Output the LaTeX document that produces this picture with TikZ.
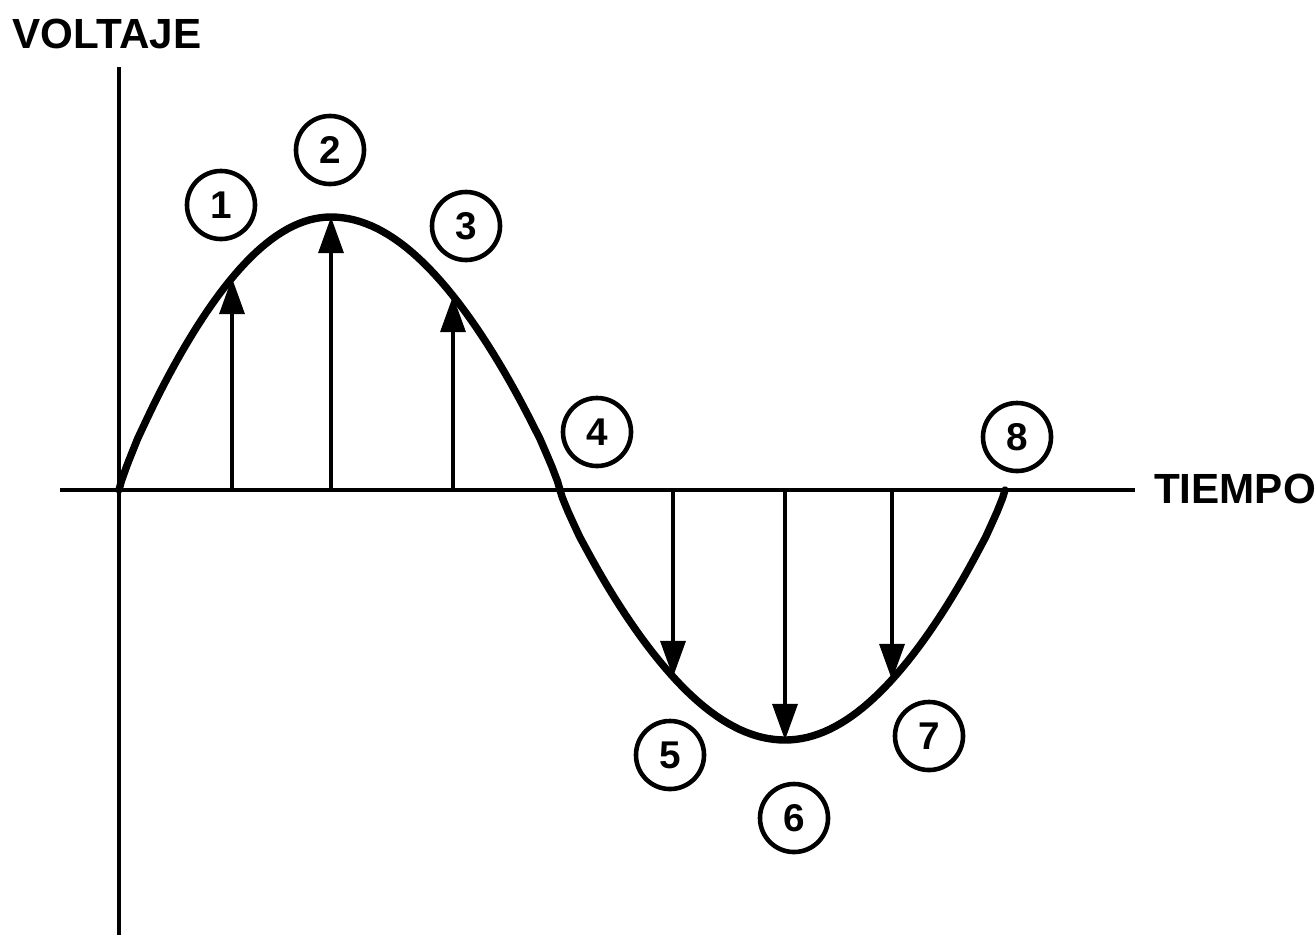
\documentclass[tikz,border=0pt]{standalone}
\usepackage{fontspec}
\setmainfont{Liberation Sans}
\usetikzlibrary{arrows.meta}

\begin{document}
\begin{tikzpicture}[
  x=0.01cm, y=-0.01cm,
  font=\bfseries\fontsize{12}{14}\selectfont,
  >={Triangle[length=3.6mm, width=2.5mm]},
  axis/.style={line width=1.1pt, black},
  wave/.style={line width=2.1pt, black, line join=round, line cap=round},
  a/.style={->, line width=0.9pt, black},
  num/.style={circle, draw, line width=1.3pt, minimum size=6.8mm, inner sep=0pt, font=\bfseries\fontsize{11}{13}\selectfont},
]
\useasboundingbox (0,0) rectangle (1316,942);
% axes
\coordinate (ytop) at (119,67);
\coordinate (ybot) at (119,935);
\coordinate (xleft) at (60,490);
\coordinate (xright) at (1135,490);
\draw[axis] (ytop)--(ybot);
\draw[axis] (xleft)--(xright);
\node (volt) at (107,34) {VOLTAJE};
\node (time) at (1235,489) {TIEMPO};
% arrow feet and tips
\coordinate (b1) at (232,490); \coordinate (t1) at (232,278);
\coordinate (b2) at (331,490); \coordinate (t2) at (331,217);
\coordinate (b3) at (453,490); \coordinate (t3) at (453,296);
\coordinate (b5) at (673,490); \coordinate (t5) at (673,677);
\coordinate (b6) at (785,490); \coordinate (t6) at (785,740);
\coordinate (b7) at (892,490); \coordinate (t7) at (892,680);
\draw[a] (b1)--(t1);
\draw[a] (b2)--(t2);
\draw[a] (b3)--(t3);
\draw[a] (b5)--(t5);
\draw[a] (b6)--(t6);
\draw[a] (b7)--(t7);
% the wave
\coordinate (w0) at (119,490);
\coordinate (wmid) at (560,490);
\coordinate (wend) at (1005,490);
\draw[wave] (w0)
  -- plot[domain=1:90, samples=40] ({119+2.3556*\x},{490-273*sin(\x)^0.85})
  -- plot[domain=90:179, samples=40] ({331+2.5444*(\x-90)},{490-273*sin(\x)^0.85})
  -- (wmid)
  -- plot[domain=1:90, samples=40] ({560+2.5*\x},{490+250*sin(\x)^0.85})
  -- plot[domain=90:179, samples=40] ({785+2.4444*(\x-90)},{490+250*sin(\x)^0.85})
  -- (wend);
% numbered points
\node[num] (n1) at (221,205) {1};
\node[num] (n2) at (330,150) {2};
\node[num] (n3) at (466,226) {3};
\node[num] (n4) at (597,432) {4};
\node[num] (n5) at (670,755) {5};
\node[num] (n6) at (794,818) {6};
\node[num] (n7) at (929,736) {7};
\node[num] (n8) at (1017,437) {8};
\end{tikzpicture}
\end{document}
